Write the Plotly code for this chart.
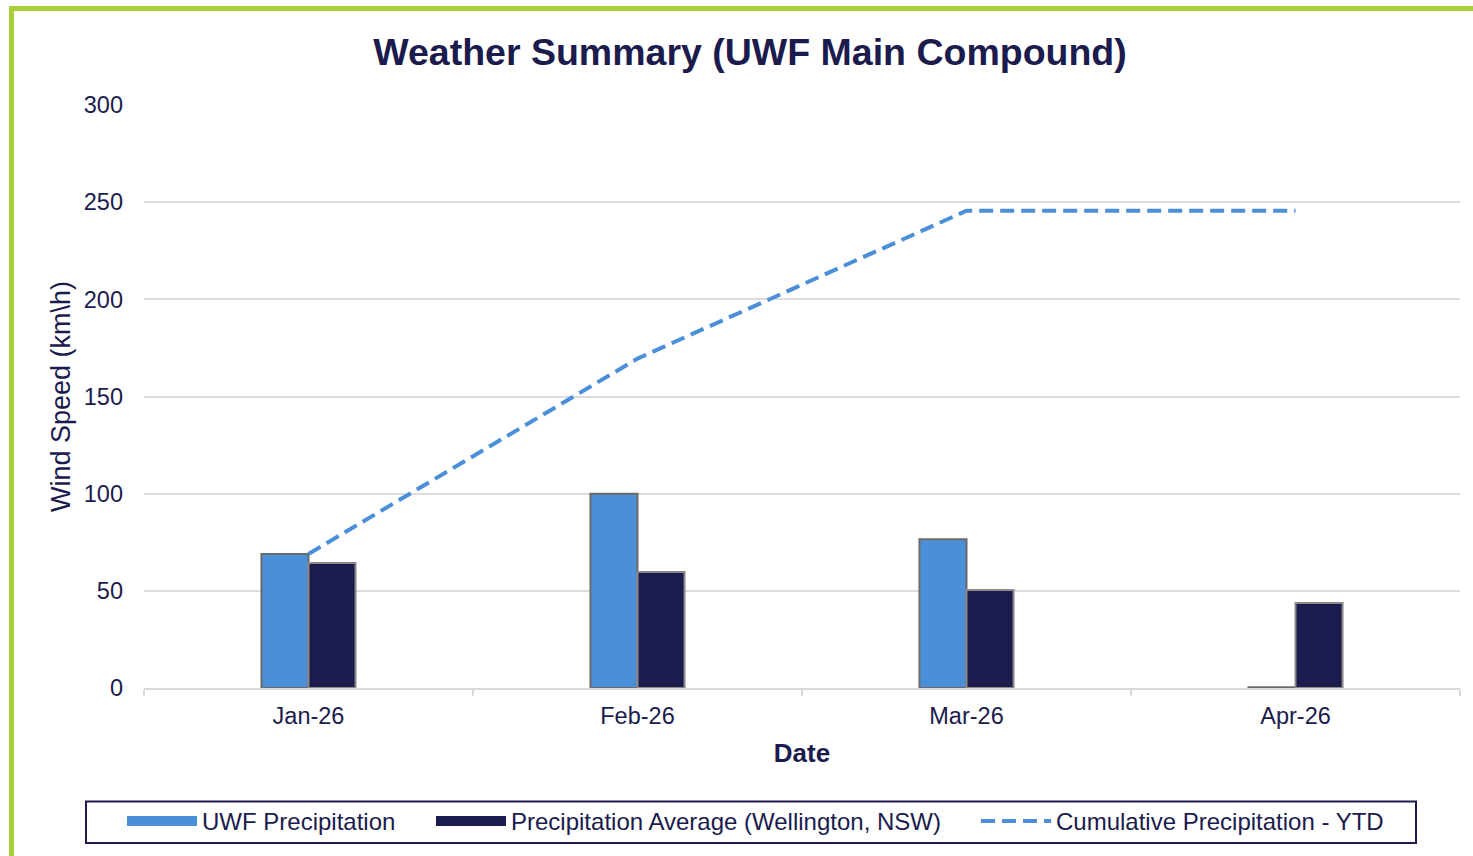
import plotly.graph_objects as go

# ---- data ----
months = ["Jan-26", "Feb-26", "Mar-26", "Apr-26"]
uwf_precip = [69, 100, 76.6, 0.4]
avg_precip = [64.3, 59.7, 50.4, 43.7]
cumulative_ytd = [69, 169.5, 245.6, 245.6]
y_ticks = [0, 50, 100, 150, 200, 250, 300]

NAVY = "#1b1b4d"
BLUE = "#4a8fd8"
FONT = "Arial, Liberation Sans, sans-serif"

W, H = 1473, 856
ML, MR, MT, MB = 144, 13, 105, 168
PW, PH = W - ML - MR, H - MT - MB


def px_x(px):
    return (px - ML) / PW


def px_y(py):
    return (H - MB - py) / PH


fig = go.Figure()
fig.add_trace(go.Bar(
    x=months, y=uwf_precip, name="UWF Precipitation",
    legendgroup="uwf", showlegend=False,
    marker=dict(color=BLUE, line=dict(color="#6b6b6b", width=2)),
))
fig.add_trace(go.Bar(
    x=months, y=avg_precip, name="Precipitation Average (Wellington, NSW)",
    legendgroup="avg", showlegend=False,
    marker=dict(color=NAVY, line=dict(color="#8a8a8a", width=2)),
))
# legend keys for the bar series (wide swatches like the reference)
fig.add_trace(go.Scatter(
    x=[None], y=[None], name="UWF Precipitation", legendgroup="uwf",
    legend="legend",
    mode="lines", line=dict(color=BLUE, width=10), hoverinfo="skip",
))
fig.add_trace(go.Scatter(
    x=[None], y=[None], name="Precipitation Average (Wellington, NSW)",
    legendgroup="avg", legend="legend2",
    mode="lines", line=dict(color=NAVY, width=10), hoverinfo="skip",
))
fig.add_trace(go.Scatter(
    x=months, y=cumulative_ytd, name="Cumulative Precipitation - YTD",
    legend="legend3",
    mode="lines", line=dict(color=BLUE, width=4, dash="14px,7px"),
))


def legend_at(px_left):
    return dict(
        orientation="h",
        xref="container", x=(px_left - 4) / W, xanchor="left",
        yref="container", y=1 - 799 / H, yanchor="top",
        borderwidth=0, bgcolor="rgba(0,0,0,0)",
        font=dict(size=24, color=NAVY, family=FONT),
        itemwidth=70,
    )


fig.update_layout(
    width=W, height=H,
    margin=dict(l=ML, r=MR, t=MT, b=MB, autoexpand=False),
    paper_bgcolor="white", plot_bgcolor="white",
    font=dict(family=FONT, color=NAVY, size=23),
    title=dict(
        text="<b>Weather Summary (UWF Main Compound)</b>",
        font=dict(size=37.5, color=NAVY, family=FONT),
        x=750 / W, xref="container", xanchor="center",
        y=1 - 52 / H, yref="container", yanchor="middle",
    ),
    barmode="group", bargap=0.714, bargroupgap=0,
    showlegend=True,
    legend=legend_at(126),
    legend2=legend_at(435),
    legend3=legend_at(980),
    shapes=[
        dict(
            type="rect", xref="paper", yref="paper",
            x0=px_x(11.5), x1=px_x(1500), y0=px_y(900), y1=px_y(8.5),
            line=dict(color="#a6ce39", width=5), fillcolor="rgba(0,0,0,0)",
            layer="above",
        ),
        dict(
            type="rect", xref="paper", yref="paper",
            x0=px_x(86), x1=px_x(1416), y0=px_y(843), y1=px_y(801.5),
            line=dict(color=NAVY, width=2), fillcolor="rgba(0,0,0,0)",
            layer="above",
        ),
    ],
)

fig.update_xaxes(
    type="category", categoryorder="array", categoryarray=months,
    title=dict(text="<b>Date</b>", font=dict(size=26, color=NAVY), standoff=16),
    tickson="boundaries", ticks="outside", ticklen=6, tickcolor="#d9d9d9",
    tickwidth=1.5, ticklabelstandoff=6,
    showline=True, linecolor="#d9d9d9", linewidth=2,
    tickfont=dict(size=23.5, color=NAVY),
    showgrid=False,
)
fig.update_yaxes(
    range=[0, 300], tickvals=y_ticks,
    title=dict(text="Wind Speed (km\\h)", font=dict(size=27, color=NAVY), standoff=5),
    showgrid=True, gridcolor="#dcdcdc", gridwidth=1.5,
    zeroline=False, showline=False,
    ticks="", ticklabelstandoff=20,
    tickfont=dict(size=23.5, color=NAVY),
)

fig.write_html("out.html", config={"displayModeBar": False},
               post_script="document.body.style.margin='0px';")
